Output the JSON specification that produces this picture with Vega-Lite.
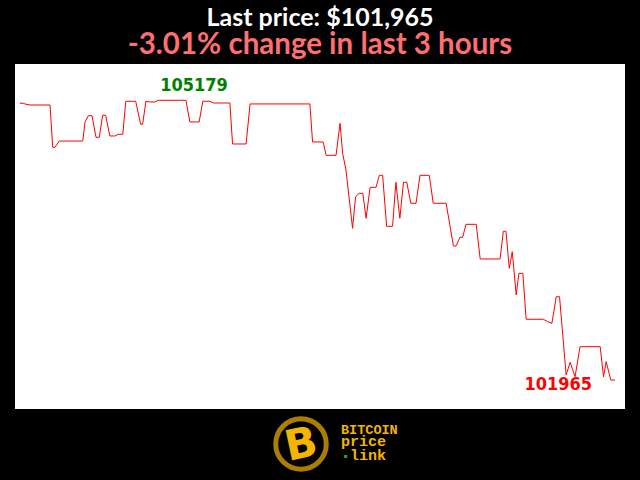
{
  "$schema": "https://vega.github.io/schema/vega-lite/v6.json",
  "width": 610,
  "height": 345,
  "autosize": "none",
  "padding": {"top": 64, "left": 15, "right": 15, "bottom": 71},
  "background": "black",
  "view": {"fill": "white", "stroke": null},
  "title": {
    "text": "Last price: $101,965",
    "subtitle": "-3.01% change in last 3 hours",
    "anchor": "middle",
    "color": "white",
    "font": "Lato",
    "fontSize": 25,
    "fontWeight": "bold",
    "subtitleColor": "#ff6f6f",
    "subtitleFont": "Lato",
    "subtitleFontSize": 29.5,
    "subtitleFontWeight": "bold",
    "subtitlePadding": 0,
    "offset": 5
  },
  "datasets": {
    "series": [
      {"t": 0, "price": 105145}, {"t": 1.0, "price": 105145}, {"t": 1.5, "price": 105137}, {"t": 3.0, "price": 105125},
      {"t": 9.1, "price": 105125}, {"t": 9.9, "price": 104639}, {"t": 10.6, "price": 104639}, {"t": 11.9, "price": 104711},
      {"t": 19.0, "price": 104711}, {"t": 19.7, "price": 104933}, {"t": 20.7, "price": 105002}, {"t": 21.8, "price": 105002},
      {"t": 23.0, "price": 104754}, {"t": 24.0, "price": 104754}, {"t": 25.0, "price": 105007}, {"t": 25.9, "price": 105007},
      {"t": 27.2, "price": 104769}, {"t": 28.7, "price": 104769}, {"t": 29.7, "price": 104788}, {"t": 31.1, "price": 104788},
      {"t": 32.0, "price": 105168}, {"t": 35.0, "price": 105168}, {"t": 36.5, "price": 104903}, {"t": 37.1, "price": 104903},
      {"t": 38.1, "price": 105168}, {"t": 39.1, "price": 105160}, {"t": 40.8, "price": 105160}, {"t": 41.8, "price": 105179},
      {"t": 50.2, "price": 105179}, {"t": 51.4, "price": 104930}, {"t": 54.2, "price": 104930}, {"t": 55.3, "price": 105168},
      {"t": 57.5, "price": 105168}, {"t": 58.5, "price": 105148}, {"t": 63.5, "price": 105148}, {"t": 64.3, "price": 104677},
      {"t": 68.4, "price": 104677}, {"t": 69.6, "price": 105137}, {"t": 87.7, "price": 105137}, {"t": 88.5, "price": 104700},
      {"t": 91.7, "price": 104700}, {"t": 92.6, "price": 104547}, {"t": 95.6, "price": 104547}, {"t": 96.8, "price": 104915},
      {"t": 97.6, "price": 104570}, {"t": 98.6, "price": 104378}, {"t": 100.6, "price": 103708}, {"t": 101.5, "price": 104071},
      {"t": 102.6, "price": 104110}, {"t": 103.7, "price": 104110}, {"t": 104.7, "price": 103823}, {"t": 105.9, "price": 104179},
      {"t": 107.7, "price": 104179}, {"t": 108.7, "price": 104317}, {"t": 109.7, "price": 104317}, {"t": 110.9, "price": 103731},
      {"t": 112.7, "price": 103731}, {"t": 113.7, "price": 104237}, {"t": 114.9, "price": 103823}, {"t": 116.0, "price": 104237},
      {"t": 117.0, "price": 104237}, {"t": 118.2, "price": 103996}, {"t": 119.8, "price": 103996}, {"t": 121.0, "price": 104317},
      {"t": 123.8, "price": 104317}, {"t": 125.0, "price": 103996}, {"t": 128.9, "price": 103996}, {"t": 131.1, "price": 103505},
      {"t": 131.9, "price": 103505}, {"t": 133.1, "price": 103605}, {"t": 133.9, "price": 103605}, {"t": 134.9, "price": 103754},
      {"t": 138.0, "price": 103754}, {"t": 139.2, "price": 103356}, {"t": 145.2, "price": 103356}, {"t": 146.2, "price": 103674},
      {"t": 147.0, "price": 103674}, {"t": 148.0, "price": 103249}, {"t": 148.9, "price": 103439}, {"t": 150.1, "price": 102942},
      {"t": 150.9, "price": 103191}, {"t": 152.1, "price": 103191}, {"t": 153.1, "price": 102663}, {"t": 158.3, "price": 102663},
      {"t": 159.6, "price": 102635}, {"t": 160.9, "price": 102617}, {"t": 162.2, "price": 102922}, {"t": 163.2, "price": 102922},
      {"t": 165.2, "price": 102023}, {"t": 166.4, "price": 102169}, {"t": 167.9, "price": 102003}, {"t": 169.4, "price": 102348},
      {"t": 175.5, "price": 102348}, {"t": 176.5, "price": 102003}, {"t": 177.3, "price": 102176}, {"t": 178.7, "price": 101965},
      {"t": 180, "price": 101965}
    ],
    "high": [{"t": 41.8, "price": 105179, "label": "105179"}],
    "last": [{"t": 180, "price": 101965, "label": "101965"}],
    "logo": [{"t": 85.0, "price": 101230, "label": "B"}],
    "brand1": [{"t": 97.1, "price": 101345, "label": "BITCOIN"}],
    "brand2": [{"t": 97.1, "price": 101212, "label": "price"}, {"t": 99.8, "price": 101050, "label": "link"}],
    "dot": [{"t": 98.5, "price": 101086}]
  },
  "layer": [
    {
      "data": {"name": "series"},
      "mark": {"type": "line", "color": "red", "strokeWidth": 1, "clip": false},
      "encoding": {
        "x": {"field": "t", "type": "quantitative", "scale": {"domain": [-1.5, 183], "nice": false, "zero": false}, "axis": null},
        "y": {"field": "price", "type": "quantitative", "scale": {"domain": [101632, 105596], "nice": false, "zero": false}, "axis": null}
      }
    },
    {
      "data": {"name": "high"},
      "mark": {"type": "text", "color": "green", "font": "DejaVu Sans Condensed", "fontWeight": "bold", "fontSize": 18, "align": "left", "baseline": "alphabetic", "dx": 2, "dy": -9},
      "encoding": {"x": {"field": "t", "type": "quantitative"}, "y": {"field": "price", "type": "quantitative"}, "text": {"field": "label"}}
    },
    {
      "data": {"name": "last"},
      "mark": {"type": "text", "color": "red", "font": "DejaVu Sans Condensed", "fontWeight": "bold", "fontSize": 18, "align": "right", "baseline": "alphabetic", "dx": -23, "dy": 10},
      "encoding": {"x": {"field": "t", "type": "quantitative"}, "y": {"field": "price", "type": "quantitative"}, "text": {"field": "label"}}
    },
    {
      "data": {"name": "logo"},
      "mark": {"type": "point", "shape": "circle", "filled": false, "stroke": "#f4b400", "strokeWidth": 5, "size": 2550, "clip": false},
      "encoding": {"x": {"field": "t", "type": "quantitative"}, "y": {"field": "price", "type": "quantitative"}}
    },
    {
      "data": {"name": "logo"},
      "mark": {"type": "text", "color": "#f4b400", "font": "DejaVu Sans", "fontWeight": "bold", "fontSize": 42, "align": "center", "baseline": "middle", "angle": -12, "dy": 1},
      "encoding": {"x": {"field": "t", "type": "quantitative"}, "y": {"field": "price", "type": "quantitative"}, "text": {"field": "label"}}
    },
    {
      "data": {"name": "brand1"},
      "mark": {"type": "text", "color": "#f4b400", "font": "Liberation Mono", "fontWeight": "bold", "fontSize": 13.5, "align": "left", "baseline": "alphabetic"},
      "encoding": {"x": {"field": "t", "type": "quantitative"}, "y": {"field": "price", "type": "quantitative"}, "text": {"field": "label"}}
    },
    {
      "data": {"name": "brand2"},
      "mark": {"type": "text", "color": "#f4b400", "font": "Liberation Mono", "fontWeight": "bold", "fontSize": 15, "align": "left", "baseline": "alphabetic"},
      "encoding": {"x": {"field": "t", "type": "quantitative"}, "y": {"field": "price", "type": "quantitative"}, "text": {"field": "label"}}
    },
    {
      "data": {"name": "dot"},
      "mark": {"type": "point", "shape": "square", "filled": true, "color": "#22aa22", "size": 9, "opacity": 1},
      "encoding": {"x": {"field": "t", "type": "quantitative"}, "y": {"field": "price", "type": "quantitative"}}
    }
  ]
}
